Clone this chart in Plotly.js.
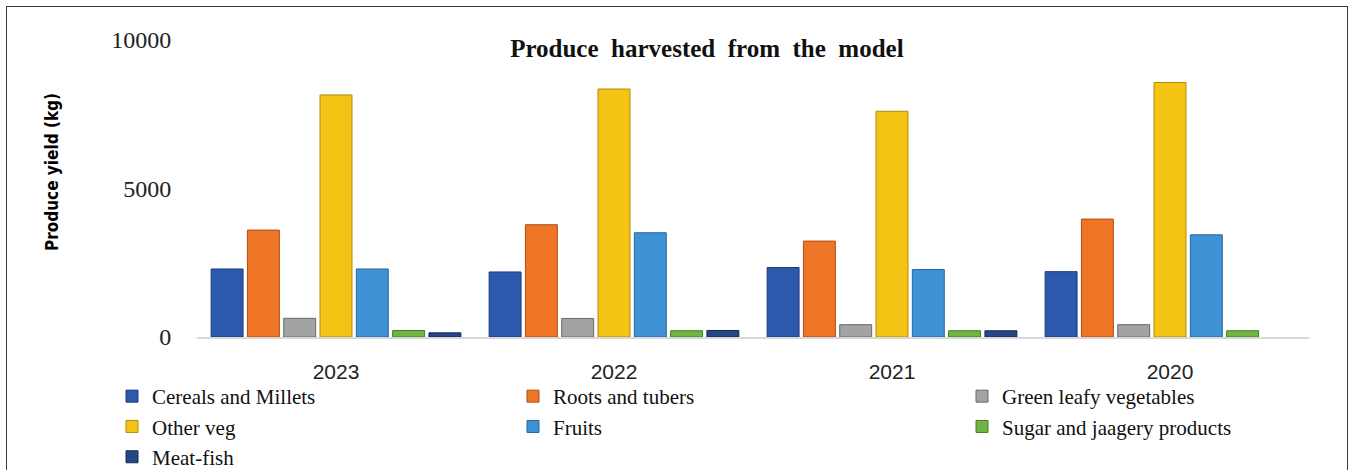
<!DOCTYPE html>
<html>
<head>
<meta charset="utf-8">
<script src="https://cdn.plot.ly/plotly-3.0.1.min.js"></script>
<style>
  html, body { margin: 0; padding: 0; background: #fff; }
  #wrap { position: relative; width: 1349px; height: 470px; overflow: hidden; }
  #chart { position: absolute; left: 0; top: 0; width: 1349px; height: 470px; }
  #frame { position: absolute; left: 6px; top: 6px; width: 1340px; height: 480px; border: 1.5px solid #3a3a3a; pointer-events: none; }
</style>
</head>
<body>
<div id="wrap">
  <div id="chart"></div>
  <div id="frame"></div>
</div>
<script>
// Categories (years, in the order shown)
var years = ['2023', '2022', '2021', '2020'];

// Series values (kg)
var cerealsMillets   = [2290, 2190, 2340, 2200];
var rootsTubers      = [3600, 3780, 3230, 3970];
var greenLeafyVeg    = [630, 625, 415, 415];
var otherVeg         = [8150, 8350, 7600, 8570];
var fruits           = [2290, 3510, 2270, 3440];
var sugarJaggery     = [220, 210, 210, 210];
var meatFish         = [140, 220, 210, null];

var seriesNames = ['Cereals and Millets', 'Roots and tubers', 'Green leafy vegetables',
                   'Other veg', 'Fruits', 'Sugar and jaagery products', 'Meat-fish'];
var seriesValues = [cerealsMillets, rootsTubers, greenLeafyVeg, otherVeg, fruits, sugarJaggery, meatFish];

var fillColors = ['#2d59ad', '#ee7526', '#a3a3a3', '#f4c414', '#3f92d6', '#70b443', '#264585'];
var edgeColors = ['#1a3a7a', '#b04f12', '#6a6a6a', '#b08a08', '#25659e', '#437d22', '#142a57'];
// legend column of each series (legend box layout: three columns, row-wise order)
var legendIds = ['legend', 'legend2', 'legend3', 'legend', 'legend2', 'legend3', 'legend'];

var traces = seriesNames.map(function (name, i) {
  return {
    type: 'bar',
    name: name,
    x: years,
    y: seriesValues[i],
    legend: legendIds[i],
    marker: { color: fillColors[i], line: { color: edgeColors[i], width: 1 } },
    hoverinfo: 'x+y+name'
  };
});

function legendBox(xPx) {
  return {
    orientation: 'v',
    xref: 'container',
    yref: 'container',
    x: xPx / 1349,
    xanchor: 'left',
    y: 1 - 376 / 470,
    yanchor: 'top',
    itemwidth: 30,
    traceorder: 'normal',
    font: { family: 'Liberation Serif, Times New Roman, serif', size: 21, color: '#111' },
    bgcolor: 'rgba(0,0,0,0)'
  };
}

var layout = {
  width: 1349,
  height: 470,
  paper_bgcolor: '#ffffff',
  plot_bgcolor: '#ffffff',
  margin: { l: 197, r: 40, t: 40, b: 133, pad: 0, autoexpand: false },
  barmode: 'group',
  bargap: 0.086,
  bargroupgap: 0.12,
  title: {
    text: '<b>Produce  harvested  from  the  model</b>',
    font: { family: 'Liberation Serif, Times New Roman, serif', size: 25, color: '#111' },
    x: 0.524, xref: 'container', xanchor: 'center',
    y: 0.898, yref: 'container', yanchor: 'middle'
  },
  xaxis: {
    type: 'category',
    showgrid: false,
    showline: true,
    linecolor: '#d9d9d9',
    linewidth: 2,
    zeroline: false,
    ticks: 'outside',
    ticklen: 15,
    tickcolor: 'rgba(0,0,0,0)',
    automargin: false,
    tickfont: { family: 'Liberation Sans, Arial, sans-serif', size: 21, color: '#222' }
  },
  yaxis: {
    range: [0, 10000],
    tickvals: [0, 5000, 10000],
    ticktext: ['0', '5000', '10000'],
    showgrid: false,
    showline: false,
    zeroline: false,
    ticks: 'outside',
    ticklen: 20,
    tickcolor: 'rgba(0,0,0,0)',
    automargin: false,
    tickfont: { family: 'Liberation Serif, Times New Roman, serif', size: 24, color: '#222' }
  },
  annotations: [{
    text: '<b>Produce yield (kg)</b>',
    xref: 'paper', yref: 'paper',
    x: (52 - 197) / 1112, y: (337 - 172) / 297,
    xanchor: 'center', yanchor: 'middle',
    textangle: -90,
    showarrow: false,
    font: { family: 'DejaVu Sans Condensed, Liberation Sans Narrow, Arial Narrow, sans-serif', size: 17, color: '#000' }
  }],
  showlegend: true,
  legend: legendBox(112),
  legend2: legendBox(513),
  legend3: legendBox(962)
};

Plotly.newPlot('chart', traces, layout, { displayModeBar: false, staticPlot: true });
</script>
</body>
</html>
